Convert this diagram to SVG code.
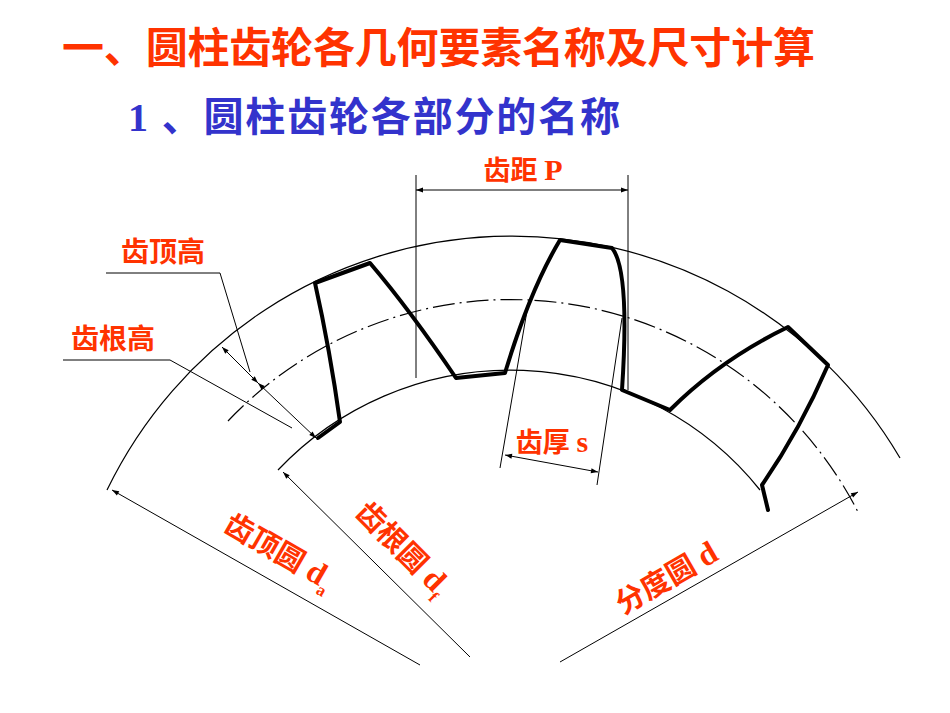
<svg xmlns="http://www.w3.org/2000/svg" width="950" height="713" viewBox="0 0 950 713">
<style>
.t{font-family:"Liberation Serif","Noto Sans CJK SC",serif;font-weight:bold;fill:#ff3300}
.thin{fill:none;stroke:#000;stroke-width:1.2}
.tooth{fill:none;stroke:#000;stroke-width:4;stroke-linejoin:round;stroke-linecap:round}
.dim{fill:none;stroke:#000;stroke-width:1}
</style>
<defs>
<marker id="a" viewBox="0 0 10 10" refX="10" refY="5" markerWidth="10" markerHeight="7" orient="auto-start-reverse" markerUnits="userSpaceOnUse"><path d="M0,1.5L10,5L0,8.5z" fill="#000"/></marker>
</defs>
<rect width="950" height="713" fill="#fff"/>
<text class="t" x="62" y="63" font-size="42" textLength="753">一、圆柱齿轮各几何要素名称及尺寸计算</text>
<text class="t" x="128" y="131" font-size="40" textLength="492" style="fill:#3333cc">1 、圆柱齿轮各部分的名称</text>
<g id="circles">
<path class="thin" d="M107,490 A450,450 0 0 1 900,458"/>
<path class="thin" d="M278,470 A320,320 0 0 1 760,490"/>
<path class="thin" d="M228,421 A390,390 0 0 1 858,512" stroke-dasharray="22,5,2,5"/>
</g>
<g id="teeth">
<path class="tooth" d="M318,438 L340,422 Q330,350 315,283 L370,263 Q410,310 456,378 L505,373 Q530,290 560,240 L612,248 Q630,270 622,390 L670,410 Q720,360 788,327 L828,365 Q800,430 762,485 L768,510"/>
</g>
<g id="connectors">
<line class="dim" x1="416" y1="175" x2="416" y2="378"/>
<line class="dim" x1="628" y1="175" x2="628" y2="390"/>
<line class="dim" x1="416" y1="190" x2="628" y2="190" marker-start="url(#a)" marker-end="url(#a)"/>
<line class="dim" x1="528" y1="305" x2="500" y2="468"/>
<line class="dim" x1="622" y1="318" x2="597" y2="485"/>
<line class="dim" x1="505" y1="455" x2="598" y2="472" marker-start="url(#a)" marker-end="url(#a)"/>
<polyline class="dim" points="106,273 220,273 250,372"/>
<polyline class="dim" points="63,360 170,360 292,428"/>
<line class="dim" x1="222" y1="347" x2="258" y2="383" marker-start="url(#a)" marker-end="url(#a)"/>
<line class="dim" x1="258" y1="383" x2="316" y2="438" marker-start="url(#a)" marker-end="url(#a)"/>
<line class="dim" x1="420" y1="665" x2="112" y2="490" marker-end="url(#a)"/>
<line class="dim" x1="470" y1="657" x2="283" y2="472" marker-end="url(#a)"/>
<line class="dim" x1="560" y1="662" x2="858" y2="492" marker-end="url(#a)"/>
</g>
<g id="labels">
<text class="t" x="523" y="180" font-size="27" text-anchor="middle">齿距 <tspan font-size="30">P</tspan></text>
<text class="t" x="552" y="452" font-size="27" text-anchor="middle">齿厚 <tspan font-size="30">s</tspan></text>
<text class="t" x="163" y="262" font-size="28" text-anchor="middle">齿顶高</text>
<text class="t" x="113" y="349" font-size="28" text-anchor="middle">齿根高</text>
<text class="t" font-size="29" transform="translate(222,530) rotate(30)">齿顶圆 <tspan font-size="32">d</tspan><tspan font-size="17" dy="8">a</tspan></text>
<text class="t" font-size="29" transform="translate(354,514) rotate(45)">齿根圆 <tspan font-size="32">d</tspan><tspan font-size="17" dy="8">f</tspan></text>
<text class="t" font-size="29" transform="translate(623,615) rotate(-30)">分度圆 <tspan font-size="32">d</tspan></text>
</g>
</svg>
